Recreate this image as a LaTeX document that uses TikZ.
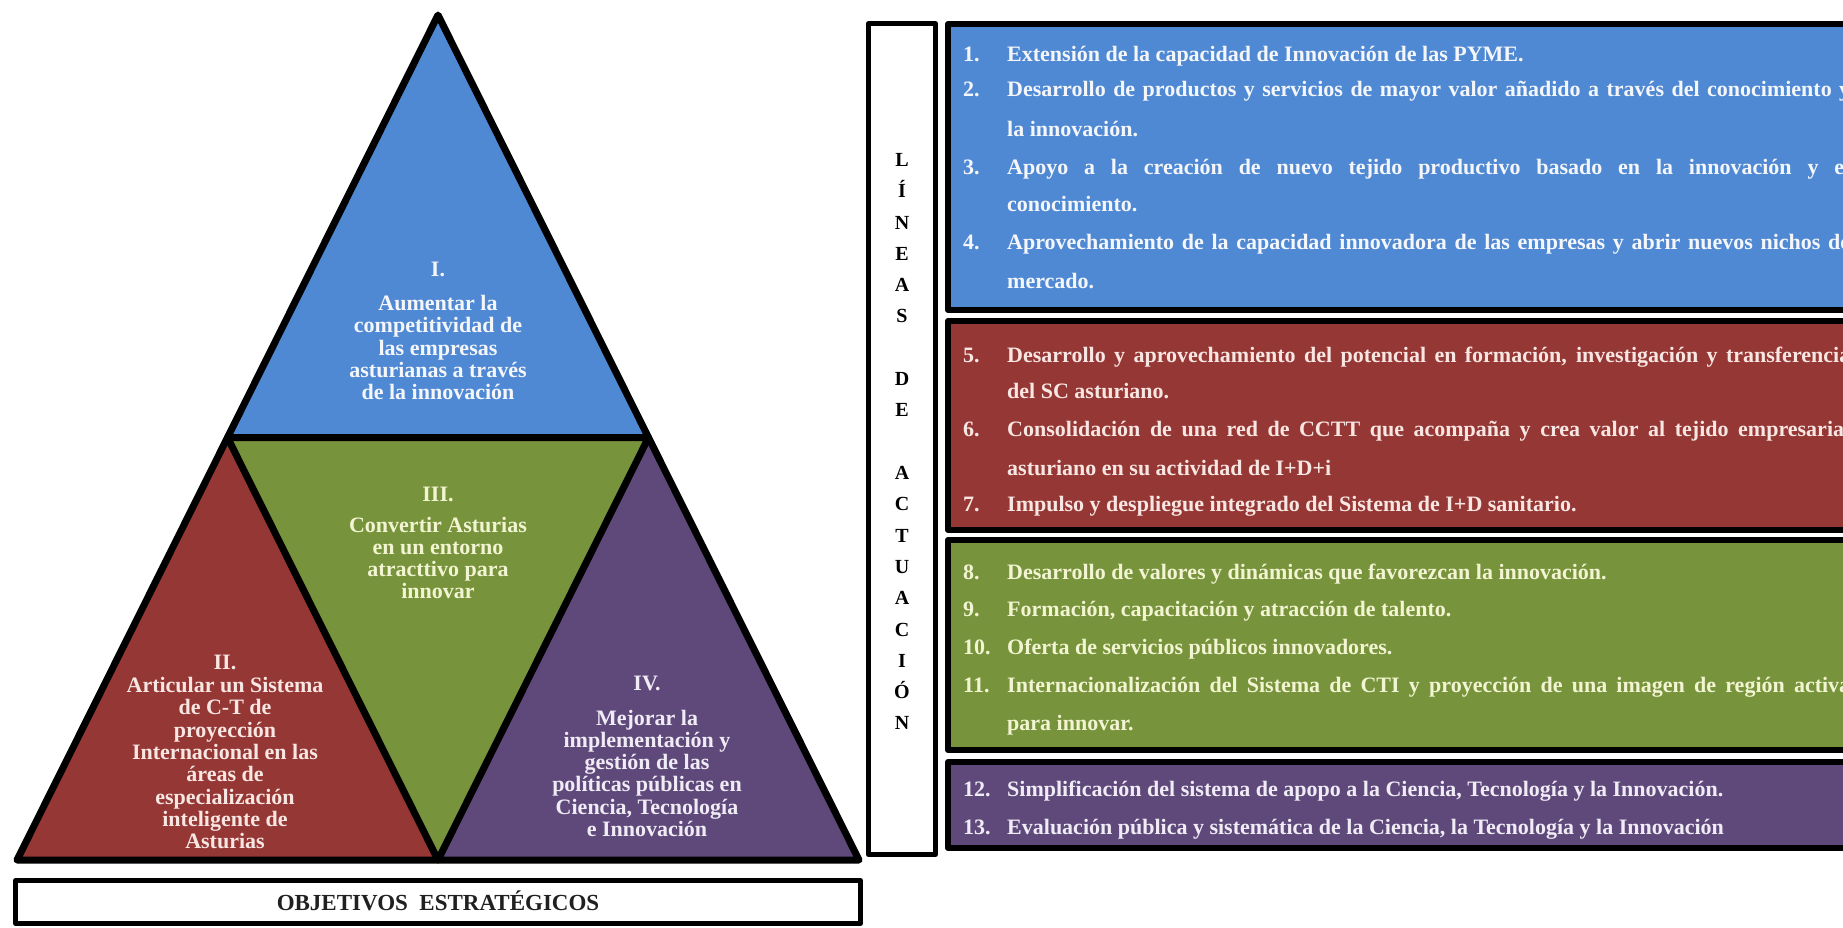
\documentclass[tikz,border=0pt]{standalone}
\usepackage{fontspec}
\setmainfont{Liberation Serif}
\definecolor{cblue}{HTML}{5089D3}
\definecolor{cred}{HTML}{953735}
\definecolor{cgreen}{HTML}{77933C}
\definecolor{cpurple}{HTML}{5F497A}
\definecolor{tblue}{HTML}{F4F6FA}
\definecolor{tred}{HTML}{F8E6E2}
\definecolor{tgreen}{HTML}{F2F4D2}
\definecolor{tpurple}{HTML}{F0ECF6}
\definecolor{objtxt}{HTML}{202020}
\begin{document}
\begin{tikzpicture}[x=1pt,y=-1pt,line join=round,
  edge/.style={line width=7pt,draw=black},
  tritxt/.style={font=\fontsize{22}{22.3}\selectfont\bfseries,align=center,inner sep=0pt,anchor=north},
  lin/.style={font=\fontsize{20}{22}\selectfont\bfseries,inner sep=0pt,anchor=base},
  num/.style={font=\fontsize{22}{26}\selectfont\bfseries,inner sep=0pt,anchor=base west},
  itm/.style={font=\fontsize{22}{26}\selectfont\bfseries,inner sep=0pt,anchor=base west},
  lbox/.style={draw=black,line width=6pt},
  framebox/.style={draw=black,line width=5pt,fill=white}]
\useasboundingbox (0,0) rectangle (1843,927);
\fill[white] (0,0) rectangle (1843,927);
\clip (0,0) rectangle (1843,927);

% ---------- pyramid ----------
\coordinate (A) at (438,15);
\coordinate (BL) at (17,860);
\coordinate (BR) at (859,860);
\coordinate (ML) at (227.5,437.5);
\coordinate (MR) at (648.5,437.5);
\coordinate (MB) at (438,860);
\fill[cblue] (A) -- (ML) -- (MR) -- cycle;
\fill[cred] (ML) -- (BL) -- (MB) -- cycle;
\fill[cgreen] (ML) -- (MR) -- (MB) -- cycle;
\fill[cpurple] (MR) -- (MB) -- (BR) -- cycle;
\draw[edge] (A) -- (BL) -- (BR) -- cycle;
\draw[edge] (ML) -- (MR) -- (MB) -- cycle;

\node[tritxt,text=tblue] (o1) at (438,262) {I.\\[11.7pt]Aumentar la\\competitividad de\\las empresas\\asturianas a través\\de la innovación};
\node[tritxt,text=tgreen] (o3) at (438,486.7) {III.\\[8.4pt]Convertir Asturias\\en un entorno\\atracttivo para\\innovar};
\node[tritxt,text=tred] (o2) at (225,654.7) {II.\\[1pt]Articular un Sistema\\de C-T de\\proyección\\Internacional en las\\áreas de\\especialización\\inteligente de\\Asturias};
\node[tritxt,text=tpurple] (o4) at (647,675.7) {IV.\\[12.4pt]Mejorar la\\implementación y\\gestión de las\\políticas públicas en\\Ciencia, Tecnología\\e Innovación};

% ---------- objetivos box ----------
\node[framebox,minimum width=845pt,minimum height=43pt,inner sep=0pt] (obj) at (438,902) {};
\node[font=\fontsize{23}{26}\selectfont\bfseries,text=objtxt,inner sep=0pt,anchor=base] (objt) at (438,910.5) {OBJETIVOS\ \ ESTRATÉGICOS};

% ---------- lineas box ----------
\node[framebox,minimum width=67pt,minimum height=831pt,inner sep=0pt] (lbx) at (902,439) {};
\foreach \ch/\yy [count=\i] in {L/160,Í/191,N/223,E/254,A/285,S/316,D/379,E/410,A/473,C/504,T/536,U/567,A/598,C/630,I/661,Ó/692,N/723}
  \node[lin] (l\i) at (902,\yy+6.6) {\ch};

% ---------- action boxes ----------
\filldraw[lbox,fill=cblue] (948,24) rectangle (1900,310);
\filldraw[lbox,fill=cred] (948,321) rectangle (1900,530);
\filldraw[lbox,fill=cgreen] (948,540) rectangle (1900,750);
\filldraw[lbox,fill=cpurple] (948,762) rectangle (1900,848);

\begin{scope}[every node/.append style={text=tblue}]
\node[num] (n1) at (963,61) {1.};
\node[itm] (t1) at (1007,61) {Extensión de la capacidad de Innovación de las PYME.};
\node[num] (n2) at (963,96) {2.};
\node[itm] (t2a) at (1007,96) {\makebox[843pt][s]{Desarrollo de productos y servicios de mayor valor añadido a través del conocimiento y}};
\node[itm] (t2b) at (1007,136) {la innovación.};
\node[num] (n3) at (963,174) {3.};
\node[itm] (t3a) at (1007,174) {\makebox[843pt][s]{Apoyo a la creación de nuevo tejido productivo basado en la innovación y el}};
\node[itm] (t3b) at (1007,211) {conocimiento.};
\node[num] (n4) at (963,249) {4.};
\node[itm] (t4a) at (1007,249) {\makebox[843pt][s]{Aprovechamiento de la capacidad innovadora de las empresas y abrir nuevos nichos de}};
\node[itm] (t4b) at (1007,288) {mercado.};
\end{scope}

\begin{scope}[every node/.append style={text=tred}]
\node[num] (n5) at (963,362) {5.};
\node[itm] (t5a) at (1007,362) {\makebox[843pt][s]{Desarrollo y aprovechamiento del potencial en formación, investigación y transferencia}};
\node[itm] (t5b) at (1007,398) {del SC asturiano.};
\node[num] (n6) at (963,436) {6.};
\node[itm] (t6a) at (1007,436) {\makebox[843pt][s]{Consolidación de una red de CCTT que acompaña y crea valor al tejido empresarial}};
\node[itm] (t6b) at (1007,475) {asturiano en su actividad de I+D+i};
\node[num] (n7) at (963,511) {7.};
\node[itm] (t7) at (1007,511) {Impulso y despliegue integrado del Sistema de I+D sanitario.};
\end{scope}

\begin{scope}[every node/.append style={text=tgreen}]
\node[num] (n8) at (963,579) {8.};
\node[itm] (t8) at (1007,579) {Desarrollo de valores y dinámicas que favorezcan la innovación.};
\node[num] (n9) at (963,616) {9.};
\node[itm] (t9) at (1007,616) {Formación, capacitación y atracción de talento.};
\node[num] (n10) at (963,654) {10.};
\node[itm] (t10) at (1007,654) {Oferta de servicios públicos innovadores.};
\node[num] (n11) at (963,692) {11.};
\node[itm] (t11a) at (1007,692) {\makebox[843pt][s]{Internacionalización del Sistema de CTI y proyección de una imagen de región activa}};
\node[itm] (t11b) at (1007,730) {para innovar.};
\end{scope}

\begin{scope}[every node/.append style={text=tpurple}]
\node[num] (n12) at (963,796) {12.};
\node[itm] (t12) at (1007,796) {Simplificación del sistema de apopo a la Ciencia, Tecnología y la Innovación.};
\node[num] (n13) at (963,834) {13.};
\node[itm] (t13) at (1007,834) {Evaluación pública y sistemática de la Ciencia, la Tecnología y la Innovación};
\end{scope}
\end{tikzpicture}
\end{document}
